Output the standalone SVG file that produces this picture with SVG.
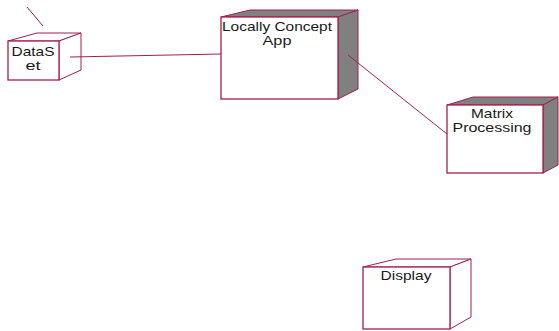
<svg xmlns="http://www.w3.org/2000/svg" width="559" height="331" viewBox="0 0 559 331">
<style>
.edge{fill:none;stroke:#a3204e;stroke-width:1}
.front{fill:#ffffff;stroke:#a3204e;stroke-width:1.3}
.side{fill:#ffffff;stroke:#a3204e;stroke-width:1}
.dark{fill:#808080;stroke:#a3204e;stroke-width:1}
.lbl{font-family:"Liberation Sans",Arial,sans-serif;font-size:13px;fill:#1a1a1a;text-anchor:middle}
</style>
<rect width="559" height="331" fill="#ffffff"/>
<g id="node-dataset">
<polygon class="side" points="8,41 37,33 81,33 59,41"/>
<polygon class="side" points="59,41 81,33 81,70 59,80"/>
<rect class="front" x="8" y="41" width="51" height="39"/>
<text class="lbl" x="33" y="56" textLength="43" lengthAdjust="spacingAndGlyphs">DataS</text>
<text class="lbl" x="33" y="70" textLength="15" lengthAdjust="spacingAndGlyphs">et</text>
</g>
<g id="node-locally">
<polygon class="dark" points="221,17 250,10 358,10 338,17"/>
<polygon class="dark" points="338,17 358,10 358,89 338,99"/>
<rect class="front" x="221" y="17" width="117" height="82"/>
<text class="lbl" x="277" y="31" textLength="110" lengthAdjust="spacingAndGlyphs">Locally Concept</text>
<text class="lbl" x="277" y="45" textLength="29" lengthAdjust="spacingAndGlyphs">App</text>
</g>
<g id="node-matrix">
<polygon class="dark" points="447,105 473,97 558,97 543,105"/>
<polygon class="dark" points="543,105 558,97 558,165 543,173"/>
<rect class="front" x="447" y="105" width="96" height="68"/>
<text class="lbl" x="492" y="118" textLength="42" lengthAdjust="spacingAndGlyphs">Matrix</text>
<text class="lbl" x="492" y="132" textLength="79" lengthAdjust="spacingAndGlyphs">Processing</text>
</g>
<g id="node-display">
<polygon class="side" points="363,267 396,259 471,259 450,267"/>
<polygon class="side" points="450,267 471,259 471,317 450,329"/>
<rect class="front" x="363" y="267" width="87" height="62"/>
<text class="lbl" x="406" y="280" textLength="51" lengthAdjust="spacingAndGlyphs">Display</text>
</g>
<g id="connectors">
<line class="edge" x1="27" y1="7" x2="43" y2="26"/>
<line class="edge" x1="70" y1="57" x2="221" y2="54"/>
<line class="edge" x1="348" y1="55" x2="447" y2="134"/>
</g>
</svg>
